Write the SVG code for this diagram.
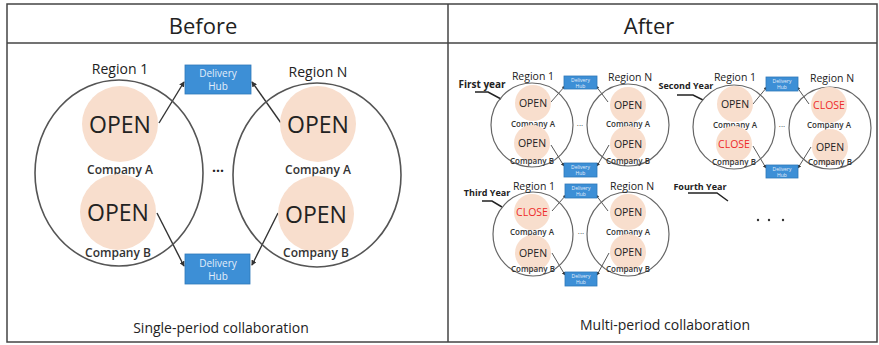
<svg xmlns="http://www.w3.org/2000/svg" width="879" height="345" viewBox="0 0 879 345">
<defs>
<marker id="ah" viewBox="0 0 6 6" refX="5" refY="3" markerWidth="4" markerHeight="4" orient="auto"><path d="M0,0 L6,3 L0,6 z" fill="#333"/></marker>
<style>
text{font-family:"Open Sans","Noto Sans","Liberation Sans",sans-serif;text-anchor:middle;fill:#222}
.cl{font-weight:600;fill:#333}
.frame{fill:#fff;stroke:#444;stroke-width:1.5}
.reg{fill:none;stroke:#555;stroke-width:1.6}
.regs{fill:none;stroke:#666;stroke-width:1.2}
.co{fill:#f8decd}
.hub{fill:#3d8fd6;stroke:#2f78ba;stroke-width:0.8}
.hubt{fill:#e3eefa}
.ln{stroke:#333;stroke-width:1.4;fill:none;marker-end:url(#ah)}
.lns{stroke:#444;stroke-width:0.9;fill:none;marker-end:url(#ah)}
.ldr{stroke:#222;stroke-width:1.5;fill:none}
.red{fill:#ee2a2a}
</style>
</defs>
<rect width="879" height="345" fill="#fff"/>
<rect class="frame" x="7" y="4" width="870" height="338"/>
<line x1="7" y1="43" x2="877" y2="43" stroke="#444" stroke-width="1.5"/>
<line x1="448" y1="4" x2="448" y2="342" stroke="#444" stroke-width="1.5"/>
<text x="203" y="34" font-size="22" font-weight="500">Before</text>
<text x="649" y="34" font-size="22" font-weight="500">After</text>
<text x="221" y="333" font-size="14">Single-period collaboration</text>
<text x="665" y="330" font-size="14">Multi-period collaboration</text>

<!-- Before -->
<g id="before-connectors">
<line class="ln" x1="159" y1="123" x2="184" y2="82"/>
<line class="ln" x1="281" y1="123" x2="252" y2="82"/>
<line class="ln" x1="157" y1="213" x2="184" y2="266"/>
<line class="ln" x1="278" y1="213" x2="252" y2="265"/>
</g>
<g id="before-region1">
<ellipse class="reg" cx="119" cy="173" rx="84" ry="93"/>
<text x="120" y="74" font-size="14" font-weight="500">Region 1</text>
</g>
<g id="before-regionN">
<ellipse class="reg" cx="317" cy="175" rx="84" ry="92"/>
<text x="318" y="77" font-size="14" font-weight="500">Region N</text>
</g>
<g id="before-r1-a"><circle class="co" cx="120" cy="124" r="38"/><text x="120" y="133" font-size="23">OPEN</text><text class="cl" x="120" y="174" font-size="12">Company A</text></g>
<g id="before-r1-b"><circle class="co" cx="118" cy="212" r="38"/><text x="118" y="221" font-size="23">OPEN</text><text class="cl" x="118" y="257" font-size="12">Company B</text></g>
<g id="before-rN-a"><circle class="co" cx="318" cy="124" r="38"/><text x="318" y="133" font-size="23">OPEN</text><text class="cl" x="318" y="174" font-size="12">Company A</text></g>
<g id="before-rN-b"><circle class="co" cx="316" cy="214" r="38"/><text x="316" y="223" font-size="23">OPEN</text><text class="cl" x="316" y="257" font-size="12">Company B</text></g>
<g id="before-hub-top"><rect class="hub" x="185" y="65" width="66" height="29"/><text class="hubt" x="218" y="77" font-size="10">Delivery</text><text class="hubt" x="218" y="90" font-size="10">Hub</text></g>
<g id="before-hub-bottom"><rect class="hub" x="185" y="254" width="65" height="30"/><text class="hubt" x="218" y="267" font-size="10">Delivery</text><text class="hubt" x="218" y="280" font-size="10">Hub</text></g>
<text x="218" y="176" font-size="14" font-weight="bold">···</text>

<!-- After: First year -->
<g id="year1">
<g id="y1-connectors">
<line class="lns" x1="551" y1="102" x2="565" y2="86"/>
<line class="lns" x1="608" y1="102" x2="596" y2="86"/>
<line class="lns" x1="551" y1="145" x2="564" y2="166"/>
<line class="lns" x1="609" y1="145" x2="597" y2="166"/>
</g>
<g id="y1-label"><text x="482" y="88" font-size="10" font-weight="bold">First year</text><polyline class="ldr" points="475,92 488,92 501,99"/></g>
<g id="y1-r1"><ellipse class="regs" cx="532" cy="125" rx="41" ry="42"/><text x="533" y="80" font-size="10.5">Region 1</text></g>
<g id="y1-rN"><ellipse class="regs" cx="628" cy="125" rx="41" ry="41"/><text x="630" y="81" font-size="10.5">Region N</text></g>
<g id="y1-r1-a"><circle class="co" cx="533" cy="103" r="18"/><text x="533" y="107" font-size="10.5">OPEN</text><text class="cl" x="533" y="127" font-size="8">Company A</text></g>
<g id="y1-r1-b"><circle class="co" cx="532" cy="143" r="18"/><text x="532" y="147" font-size="10.5">OPEN</text><text class="cl" x="532" y="164" font-size="8">Company B</text></g>
<g id="y1-rN-a"><circle class="co" cx="628" cy="105" r="18"/><text x="628" y="109" font-size="10.5">OPEN</text><text class="cl" x="628" y="127" font-size="8">Company A</text></g>
<g id="y1-rN-b"><circle class="co" cx="628" cy="144" r="18"/><text x="628" y="148" font-size="10.5">OPEN</text><text class="cl" x="628" y="164" font-size="8">Company B</text></g>
<g id="y1-hub-top"><rect class="hub" x="564" y="76" width="33" height="13"/><text class="hubt" x="580.5" y="82" font-size="5">Delivery</text><text class="hubt" x="580.5" y="88" font-size="5">Hub</text></g>
<g id="y1-hub-bottom"><rect class="hub" x="564" y="163" width="33" height="14"/><text class="hubt" x="580.5" y="169" font-size="5">Delivery</text><text class="hubt" x="580.5" y="175" font-size="5">Hub</text></g>
<text x="580" y="128" font-size="8">···</text>
</g>

<!-- After: Second Year -->
<g id="year2">
<g id="y2-connectors">
<line class="lns" x1="753" y1="104" x2="767" y2="87"/>
<line class="lns" x1="809" y1="104" x2="797" y2="87"/>
<line class="lns" x1="753" y1="146" x2="766" y2="168"/>
<line class="lns" x1="811" y1="147" x2="798" y2="168"/>
</g>
<g id="y2-label"><text x="686" y="89" font-size="9" font-weight="bold">Second Year</text><polyline class="ldr" points="677,95 693,95 703,100"/></g>
<g id="y2-r1"><ellipse class="regs" cx="734" cy="127" rx="41" ry="42"/><text x="735" y="81" font-size="10.5">Region 1</text></g>
<g id="y2-rN"><ellipse class="regs" cx="830" cy="128" rx="41" ry="41"/><text x="832" y="82" font-size="10.5">Region N</text></g>
<g id="y2-r1-a"><circle class="co" cx="735" cy="104" r="18"/><text x="735" y="108" font-size="10.5">OPEN</text><text class="cl" x="735" y="128" font-size="8">Company A</text></g>
<g id="y2-r1-b"><circle class="co" cx="734" cy="144" r="18"/><text class="red" x="734" y="148" font-size="10.5">CLOSE</text><text class="cl" x="734" y="165" font-size="8">Company B</text></g>
<g id="y2-rN-a"><circle class="co" cx="829" cy="105" r="18"/><text class="red" x="829" y="109" font-size="10.5">CLOSE</text><text class="cl" x="829" y="128" font-size="8">Company A</text></g>
<g id="y2-rN-b"><circle class="co" cx="830" cy="147" r="18"/><text x="830" y="151" font-size="10.5">OPEN</text><text class="cl" x="830" y="165" font-size="8">Company B</text></g>
<g id="y2-hub-top"><rect class="hub" x="766" y="77" width="32" height="14"/><text class="hubt" x="782" y="83" font-size="5">Delivery</text><text class="hubt" x="782" y="89" font-size="5">Hub</text></g>
<g id="y2-hub-bottom"><rect class="hub" x="766" y="165" width="32" height="13"/><text class="hubt" x="782" y="171" font-size="5">Delivery</text><text class="hubt" x="782" y="177" font-size="5">Hub</text></g>
<text x="782" y="129" font-size="8">···</text>
</g>

<!-- After: Third Year -->
<g id="year3">
<g id="y3-connectors">
<line class="lns" x1="552" y1="211" x2="566" y2="195"/>
<line class="lns" x1="608" y1="211" x2="596" y2="195"/>
<line class="lns" x1="552" y1="253" x2="565" y2="275"/>
<line class="lns" x1="609" y1="253" x2="597" y2="275"/>
</g>
<g id="y3-label"><text x="487" y="196" font-size="9" font-weight="bold">Third Year</text><polyline class="ldr" points="482,201 492,201 502,207"/></g>
<g id="y3-r1"><ellipse class="regs" cx="533" cy="234" rx="40" ry="42"/><text x="534" y="190" font-size="10.5">Region 1</text></g>
<g id="y3-rN"><ellipse class="regs" cx="628" cy="234" rx="41" ry="42"/><text x="632" y="190" font-size="10.5">Region N</text></g>
<g id="y3-r1-a"><circle class="co" cx="532" cy="212" r="18"/><text class="red" x="532" y="216" font-size="10.5">CLOSE</text><text class="cl" x="532" y="235" font-size="8">Company  A</text></g>
<g id="y3-r1-b"><circle class="co" cx="533" cy="253" r="18"/><text x="533" y="257" font-size="10.5">OPEN</text><text class="cl" x="533" y="272" font-size="8">Company B</text></g>
<g id="y3-rN-a"><circle class="co" cx="628" cy="212" r="18"/><text x="628" y="216" font-size="10.5">OPEN</text><text class="cl" x="628" y="235" font-size="8">Company A</text></g>
<g id="y3-rN-b"><circle class="co" cx="628" cy="252" r="18"/><text x="628" y="256" font-size="10.5">OPEN</text><text class="cl" x="628" y="272" font-size="8">Company B</text></g>
<g id="y3-hub-top"><rect class="hub" x="565" y="184" width="32" height="14"/><text class="hubt" x="581" y="190" font-size="5">Delivery</text><text class="hubt" x="581" y="196" font-size="5">Hub</text></g>
<g id="y3-hub-bottom"><rect class="hub" x="565" y="272" width="32" height="14"/><text class="hubt" x="581" y="278" font-size="5">Delivery</text><text class="hubt" x="581" y="284" font-size="5">Hub</text></g>
<text x="581" y="236" font-size="8">···</text>
</g>

<!-- Fourth Year -->
<g id="year4">
<text x="700" y="190" font-size="9" font-weight="bold">Fourth Year</text>
<polyline class="ldr" points="688,193 717,193 728,201"/>
<circle cx="758" cy="220" r="1.2" fill="#333"/>
<circle cx="769" cy="220" r="1.2" fill="#333"/>
<circle cx="783" cy="220" r="1.2" fill="#333"/>
</g>
</svg>
